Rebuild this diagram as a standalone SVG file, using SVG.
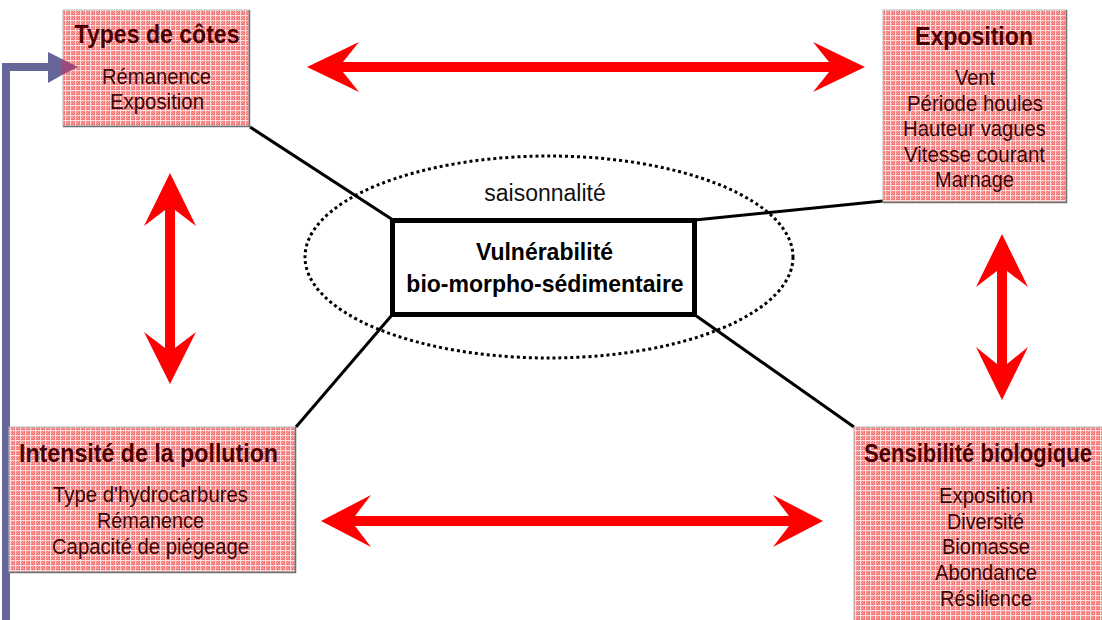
<svg xmlns="http://www.w3.org/2000/svg" width="1102" height="620" viewBox="0 0 1102 620">
  <style>
    .box { fill: url(#grid); stroke: #b8b8b8; stroke-width: 1; }
    .shadow { fill: none; stroke: #707070; stroke-width: 1.5; }
    .title { font-family: "Liberation Sans", Arial, sans-serif; font-weight: bold; font-size: 25px; fill: #4a0000; text-anchor: middle; }
    .item { font-family: "Liberation Sans", Arial, sans-serif; font-size: 22px; fill: #3a0505; text-anchor: middle; }
    .core { font-family: "Liberation Sans", Arial, sans-serif; font-weight: bold; font-size: 23px; fill: #000; text-anchor: middle; }
    .season { font-family: "Liberation Sans", Arial, sans-serif; font-size: 23px; fill: #111; text-anchor: middle; }
    .link { stroke: #000; stroke-width: 3; fill: none; }
    .dbl { fill: #ff0000; }
    .feed { stroke: #666699; stroke-width: 8; fill: none; }
  </style>
  <defs>
    <!-- fine pink screen with a light grid, used as box fill -->
    <pattern id="grid" width="5" height="5" patternUnits="userSpaceOnUse">
      <rect width="5" height="5" fill="#f37676"/>
      <rect x="1" y="1" width="1" height="1" fill="#ffa8a8"/>
      <rect x="3" y="1" width="1" height="1" fill="#ffa8a8"/>
      <rect x="2" y="2" width="1" height="1" fill="#ffa8a8"/>
      <rect x="1" y="3" width="1" height="1" fill="#ffa8a8"/>
      <rect x="3" y="3" width="1" height="1" fill="#ffa8a8"/>
      <rect width="5" height="1" fill="#fcdede"/>
      <rect width="1" height="5" fill="#fcdede"/>
    </pattern>
  </defs>

  <rect width="1102" height="620" fill="#fff"/>

  <!-- feedback line along the left edge -->
  <g id="feedback">
    <path class="feed" d="M6,620 V67 H50"/>
    <polygon points="48,52 62,59 62,75 48,83" fill="#666699"/>
  </g>

  <!-- links to the central box -->
  <g id="connectors">
    <line class="link" x1="250" y1="127" x2="393" y2="220"/>
    <line class="link" x1="695" y1="220" x2="883" y2="201"/>
    <line class="link" x1="392" y1="315" x2="296" y2="427"/>
    <line class="link" x1="695" y1="315" x2="854" y2="427"/>
    <!-- double-headed red arrows between the factor boxes -->
    <polygon class="dbl" points="307,67 359,42 343,62 829,62 813,42 865,67 813,92 829,72 343,72 359,92"/>
    <polygon class="dbl" points="321,521 371,495 355,516 789,516 773,495 823,521 773,547 789,526 355,526 371,547"/>
    <polygon class="dbl" points="170,173 196,226 175,210 175,348 196,332 170,384 144,332 165,348 165,210 144,226"/>
    <polygon class="dbl" points="1002,234 1028,287 1007,271 1007,364 1028,347 1002,400 976,347 997,364 997,271 976,287"/>
  </g>

  <g id="types-de-cotes">
    <rect class="box" x="63" y="10" width="186" height="116"/>
    <polyline class="shadow" points="249.5,10 249.5,126.5 63,126.5"/>
    <polygon points="62,59 78,67 62,75" fill="#9c4a7a"/>
    <text class="title" x="157" y="43" textLength="165" lengthAdjust="spacingAndGlyphs">Types de côtes</text>
    <text class="item" x="156.5" y="84" textLength="109" lengthAdjust="spacingAndGlyphs">Rémanence</text>
    <text class="item" x="157" y="109" textLength="94" lengthAdjust="spacingAndGlyphs">Exposition</text>
  </g>

  <g id="exposition">
    <rect class="box" x="883" y="10" width="183" height="192"/>
    <polyline class="shadow" points="1066.5,10 1066.5,202.5 883,202.5"/>
    <text class="title" x="974" y="45" textLength="118" lengthAdjust="spacingAndGlyphs">Exposition</text>
    <text class="item" x="975" y="85" textLength="40" lengthAdjust="spacingAndGlyphs">Vent</text>
    <text class="item" x="975" y="111" textLength="136" lengthAdjust="spacingAndGlyphs">Période houles</text>
    <text class="item" x="974.5" y="136" textLength="143" lengthAdjust="spacingAndGlyphs">Hauteur vagues</text>
    <text class="item" x="974.5" y="162" textLength="141" lengthAdjust="spacingAndGlyphs">Vitesse courant</text>
    <text class="item" x="974.5" y="187" textLength="79" lengthAdjust="spacingAndGlyphs">Marnage</text>
  </g>

  <g id="intensite-pollution">
    <rect class="box" x="9" y="427" width="286" height="145"/>
    <polyline class="shadow" points="295.5,427 295.5,572.5 9,572.5"/>
    <text class="title" x="148.5" y="462" textLength="259" lengthAdjust="spacingAndGlyphs">Intensité de la pollution</text>
    <text class="item" x="150.5" y="502" textLength="195" lengthAdjust="spacingAndGlyphs">Type d'hydrocarbures</text>
    <text class="item" x="150.5" y="528" textLength="107" lengthAdjust="spacingAndGlyphs">Rémanence</text>
    <text class="item" x="150.5" y="554" textLength="197" lengthAdjust="spacingAndGlyphs">Capacité de piégeage</text>
  </g>

  <g id="sensibilite-biologique">
    <rect class="box" x="854" y="427" width="260" height="200"/>
    <text class="title" x="864" y="462" style="text-anchor:start" textLength="228" lengthAdjust="spacingAndGlyphs">Sensibilité biologique</text>
    <text class="item" x="986" y="503" textLength="94" lengthAdjust="spacingAndGlyphs">Exposition</text>
    <text class="item" x="985.5" y="529" textLength="77" lengthAdjust="spacingAndGlyphs">Diversité</text>
    <text class="item" x="986" y="554" textLength="88" lengthAdjust="spacingAndGlyphs">Biomasse</text>
    <text class="item" x="986" y="580" textLength="102" lengthAdjust="spacingAndGlyphs">Abondance</text>
    <text class="item" x="986" y="606" textLength="92" lengthAdjust="spacingAndGlyphs">Résilience</text>
  </g>

  <g id="vulnerabilite">
    <ellipse cx="549" cy="257" rx="244" ry="101" fill="none" stroke="#000" stroke-width="3" stroke-dasharray="3 3"/>
    <text class="season" x="545" y="201">saisonnalité</text>
    <rect x="392.5" y="220.5" width="302" height="94" fill="#fff" stroke="#000" stroke-width="5"/>
    <text class="core" x="544.5" y="260">Vulnérabilité</text>
    <text class="core" x="545" y="292">bio-morpho-sédimentaire</text>
  </g>
</svg>
